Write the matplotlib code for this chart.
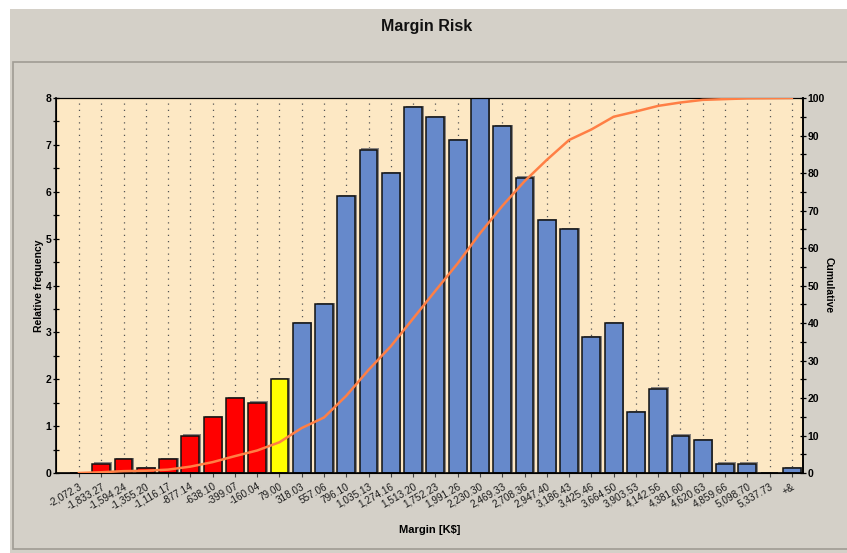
import matplotlib
matplotlib.use("Agg")
import matplotlib.pyplot as plt
from matplotlib.patches import Rectangle
from matplotlib.ticker import MultipleLocator
from matplotlib import transforms

plt.rcParams['font.family'] = ['Liberation Sans', 'DejaVu Sans']

bin_labels = ["-2,072.3", "-1,833.27", "-1,594.24", "-1,355.20", "-1,116.17", "-877.14",
              "-638.10", "-399.07", "-160.04", "79.00", "318.03", "557.06", "796.10",
              "1,035.13", "1,274.16", "1,513.20", "1,752.23", "1,991.26", "2,230.30",
              "2,469.33", "2,708.36", "2,947.40", "3,186.43", "3,425.46", "3,664.50",
              "3,903.53", "4,142.56", "4,381.60", "4,620.63", "4,859.66", "5,098.70",
              "5,337.73", "+&"]
rel_freq = [0, 0.2, 0.3, 0.1, 0.3, 0.8, 1.2, 1.6, 1.5, 2.0, 3.2, 3.6, 5.9, 6.9, 6.4,
            7.8, 7.6, 7.1, 8.0, 7.4, 6.3, 5.4, 5.2, 2.9, 3.2, 1.3, 1.8, 0.8, 0.7,
            0.2, 0.2, 0.0, 0.1]
cumulative = [0, 0.2, 0.5, 0.6, 0.9, 1.7, 2.9, 4.5, 6.0, 8.2, 12.0, 14.8, 20.6, 27.5,
              33.8, 41.2, 48.6, 55.9, 63.9, 71.2, 77.8, 83.5, 88.8, 91.6, 95.0, 96.4,
              97.9, 98.8, 99.5, 99.7, 99.9, 99.95, 100]
bar_colors = (["#FF0000"] * 9 + ["#FFFF00"] + ["#6689CB"] * 23)

W, H = 847, 553
fig = plt.figure(figsize=(W / 100, H / 100), dpi=100)
fig.patch.set_facecolor("white")

# background panels
fig.patches.append(Rectangle((10 / W, 0), 1, 1 - 9 / H, transform=fig.transFigure,
                             facecolor="#D4D0C8", edgecolor="none", zorder=-10))
fig.patches.append(Rectangle((13 / W, 1 - 549 / H), 1, (549 - 62) / H, transform=fig.transFigure,
                             facecolor="#D4D0C8", edgecolor="#A09C94", linewidth=1.2, zorder=-9))

fig.text(427 / W, 1 - 27 / H, "Margin Risk", ha="center", va="center",
         fontsize=11.5, fontweight="bold", color="#111111")

left, right, top, bottom = 56, 803, 98, 473
ax = fig.add_axes([left / W, 1 - bottom / H, (right - left) / W, (bottom - top) / H])
ax.set_facecolor("#FDE8C4")
x = list(range(len(bin_labels)))

# dotted vertical grid
for xi in x:
    ax.axvline(xi, color="#555555", linestyle=(0, (1, 4)), linewidth=0.9, zorder=0.5)

# bar shadows
shadow = transforms.offset_copy(ax.transData, fig=fig, x=1.6, y=1.2, units="dots")
ax.bar(x, rel_freq, width=0.8, color="#8A8580", edgecolor="none", transform=shadow, zorder=1)
ax.bar(x, rel_freq, width=0.8, color=bar_colors, edgecolor="#111111", linewidth=1.1, zorder=2)

ax.set_xlim(-1.03, 32.5)
ax.set_ylim(0, 8)
ax.set_xticks(x)
ax.set_xticklabels(bin_labels, rotation=30, ha="right", va="top", rotation_mode="anchor",
                   fontsize=7.2, color="#1a1a1a")
ax.tick_params(axis="x", length=3, width=0.8, direction="out", pad=3, color="#444444")
ax.yaxis.set_major_locator(MultipleLocator(1))
ax.yaxis.set_minor_locator(MultipleLocator(0.5))
ax.tick_params(axis="y", which="major", length=5, width=0.9, direction="inout", labelsize=7.5, pad=1)
ax.tick_params(axis="y", which="minor", length=4, width=0.9, direction="inout")
for lab in ax.get_yticklabels():
    lab.set_fontweight("bold")
ax.set_ylabel("Relative frequency", fontsize=7.5, fontweight="bold", labelpad=1)
ax.set_xlabel("Margin [K$]", fontsize=8, fontweight="bold", labelpad=10)

for s in ["left", "right"]:
    ax.spines[s].set_linewidth(1.2)
ax.spines["top"].set_linewidth(0.8)
ax.spines["bottom"].set_linewidth(1.2)

ax2 = ax.twinx()
ax2.plot(x, cumulative, color="#FF7F45", linewidth=1.8, zorder=5)
ax2.set_ylim(0, 100)
ax2.yaxis.set_major_locator(MultipleLocator(10))
ax2.yaxis.set_minor_locator(MultipleLocator(5))
ax2.tick_params(axis="y", which="major", length=5, width=0.9, direction="inout", labelsize=7.5, pad=1)
ax2.tick_params(axis="y", which="minor", length=4, width=0.9, direction="inout")
for lab in ax2.get_yticklabels():
    lab.set_fontweight("bold")
ax2.set_ylabel("Cumulative", fontsize=7.5, fontweight="bold", rotation=-90, labelpad=6)
ax2.spines["right"].set_linewidth(1.2)

fig.savefig("out.png", dpi=100, facecolor=fig.get_facecolor())
